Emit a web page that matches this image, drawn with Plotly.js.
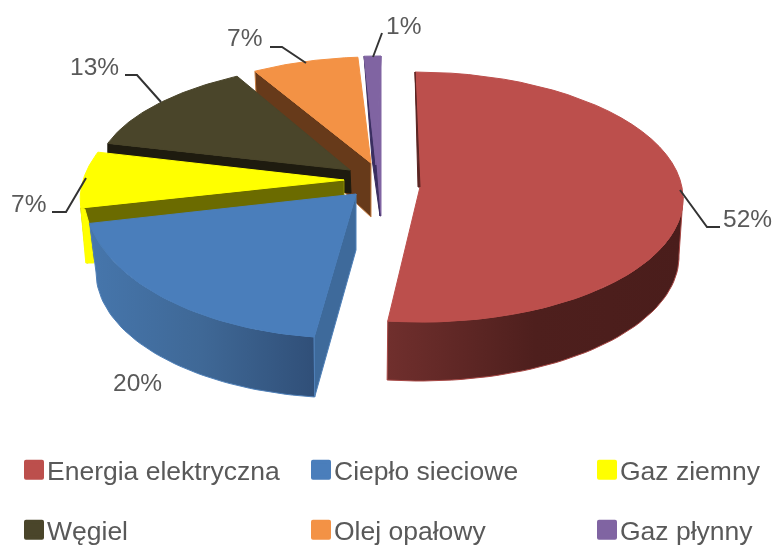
<!DOCTYPE html>
<html><head><meta charset="utf-8">
<script src="https://cdn.plot.ly/plotly-3.0.1.min.js"></script>
<style>html,body{margin:0;padding:0;background:#fff}#c{width:775px;height:547px;filter:blur(0.4px)}</style>
</head><body><div id="c"></div>
<script>
// data
const categories = ["Energia elektryczna","Ciepło sieciowe","Gaz ziemny","Węgiel","Olej opałowy","Gaz płynny"];
const shares = [52,20,7,13,7,1];
// colours
const faceColors = ["#BC4F4C","#4A7EBB","#FFFF00","#4A452A","#F39245","#8064A2"];
const sideColors = ["#4A1D1B","#3E6A9B","#6B6B00","#1E1B0F","#673A1A","#3A2E60"];
// projection of the exploded, tilted slices (pixels): [cx, cy, rx, ry, skew]
const ellipses = [[418,197,265,125,-3],[347,197,262,141,0],[344,184,262,128,31],[347,170,250,107,12],[353,172,240,115,20],[381,167,270,111,0]];
const apexes = [[420,187],[356,194],[344,180],[350,170],[371,163],[376,165]];
const sideDrop = [0,56,20,23,54,51];
// lower rims of the two front walls: [cx, cy, rx, ry, skew] and where each rim ends (degrees)
const lowerRimRed = [417,255,262,126,-3];
const lowerRimBlue = [346,272,250,126,0];
const rimEnd = {red:90, blue:270};
// labels: [x,y] label centres and leader polylines
const labelPos = [[747,218],[137,382],[28,203],[94,66],[244,37],[403,25]];
const leaders = [[[680,190],[707,227],[720,227]],null,[[86,178],[66,212],[52,212]],[[161,102],[137,75],[125,75]],[[306,63],[282,47],[270,47]],[[373,57],[382,33]]];
const legendPos = [[7,470],[294,470],[580,470],[7,530],[294,530],[580,530]];

const rad = d => d*Math.PI/180;
let cum = 0;
const angles = shares.map(v => { const a=[cum*3.6,(cum+v)*3.6]; cum+=v; return a; });
function pt(e,t){ return [e[0]+e[2]*Math.sin(rad(t))+e[4]*Math.cos(rad(t)), e[1]-e[3]*Math.cos(rad(t))]; }
function arc(e,a,b){ const o=[]; const n=48; for(let i=0;i<=n;i++) o.push(pt(e,a+(b-a)*i/n)); return o; }
function poly(pts,color,grad,edge){
  const t={type:'scatter',mode:'lines',x:pts.map(p=>p[0]),y:pts.map(p=>p[1]),fill:'toself',fillcolor:color,
    line:{color:edge||color,width:1},hoverinfo:'skip',showlegend:false};
  if(grad) t.fillgradient={type:'horizontal',colorscale:grad};
  return t;
}
function closed(p){ return p.concat([p[0]]); }
function face(i){ return closed([apexes[i]].concat(arc(ellipses[i],angles[i][0],angles[i][1]))); }
function drop(p,dx,dy){ return [p[0]+dx,p[1]+dy]; }

const traces=[];
// legend entries
categories.forEach((c,i)=>traces.push({type:'scatter',mode:'markers',x:[null],y:[null],name:c,
  marker:{symbol:'square',size:16,color:faceColors[i],line:{color:faceColors[i],width:4}},
  legend:i===0?'legend':'legend'+(i+1),showlegend:true,hoverinfo:'skip'}));

// Gaz płynny
{const i=5,s=pt(ellipses[i],angles[i][0]),e=pt(ellipses[i],angles[i][1]),a=apexes[i],b=drop(a,4,sideDrop[i]);
 traces.push(poly(closed([e,drop(e,0,160),b,a]),faceColors[i]));
 traces.push(poly(closed([s,a,b,drop(a,-4,-6)]),sideColors[i]));
 traces.push(poly(face(i),faceColors[i]));}
// Olej opałowy
{const i=4,s=pt(ellipses[i],angles[i][0]),a=apexes[i];
 traces.push(poly(closed([s,a,drop(a,0,sideDrop[i]),drop(s,2,40)]),sideColors[i],null,'#C77F45'));
 traces.push(poly(face(i),faceColors[i]));}
// Węgiel
{const i=3,s=pt(ellipses[i],angles[i][0]),a=apexes[i];
 traces.push(poly(closed([s,a,drop(a,1,sideDrop[i]),drop(s,0,sideDrop[i])]),sideColors[i]));
 traces.push(poly(face(i),faceColors[i]));}
// Gaz ziemny: the cut wall and rim hang from the lower (start) edge of the slice
{const i=2,s=pt(ellipses[i],angles[i][0]),a=apexes[i];
 traces.push(poly(closed([s,a,drop(a,0,sideDrop[i]),drop(s,6,55)]),sideColors[i],null,'#8A8A00'));
 traces.push(poly(closed([s,drop(s,5,55),drop(s,13,55),drop(s,8,15),drop(s,4,1)]),faceColors[i]));
 traces.push(poly(face(i),faceColors[i]));}
// Ciepło sieciowe
{const i=1,e=ellipses[i],a=apexes[i],[t0,t1]=angles[i],r=lowerRimBlue;
 const top=arc(e,t0,t1),low=arc(r,rimEnd.blue,t0);
 traces.push(poly(closed(top.concat(low)),sideColors[i],[[0,'#4676AC'],[0.5,'#3F6896'],[1,'#304F78']],'#4F80B8'));
 traces.push(poly(closed([a,drop(a,0,sideDrop[i]),pt(r,t0),pt(e,t0)]),sideColors[i],null,'#4F80B8'));
 traces.push(poly(face(i),faceColors[i]));}
// Energia elektryczna
{const i=0,e=ellipses[i],a=apexes[i],[t0,t1]=angles[i],r=lowerRimRed;
 const top=arc(e,rimEnd.red,t1),low=arc(r,t1,rimEnd.red);
 traces.push(poly(closed(top.concat(low)),sideColors[i],[[0,'#702F2D'],[0.5,'#4E1F1D'],[1,'#4A1D1B']],'#A84845'));
 traces.push(poly(closed(arc(e,0,t1).concat([a])),faceColors[i]));
 traces.push(poly(closed([pt(e,0),a,drop(a,-2,0)]),'#5A2422'));}
// leader lines
leaders.forEach(l=>{ if(l) traces.push({type:'scatter',mode:'lines',x:l.map(p=>p[0]),y:l.map(p=>p[1]),
  line:{color:'#333333',width:2},hoverinfo:'skip',showlegend:false}); });

const txt='#595959', font='"Liberation Sans", Arial, sans-serif';
const annotations=shares.map((v,i)=>({x:labelPos[i][0],y:labelPos[i][1],xref:'x',yref:'y',text:v+'%',showarrow:false,
  xanchor:'center',yanchor:'middle',font:{family:font,size:24.5,color:txt}}));

const layout={width:775,height:547,margin:{l:0,r:0,t:0,b:0,autoexpand:false},paper_bgcolor:'#fff',plot_bgcolor:'#fff',
  xaxis:{range:[0,775],visible:false,fixedrange:true},yaxis:{range:[547,0],visible:false,fixedrange:true},
  annotations,showlegend:true};
categories.forEach((c,i)=>{ layout[i===0?'legend':'legend'+(i+1)]={x:legendPos[i][0]/775,y:1-legendPos[i][1]/547,
  xanchor:'left',yanchor:'middle',bgcolor:'rgba(0,0,0,0)',borderwidth:0,font:{family:font,size:26.5,color:txt}}; });

Plotly.newPlot('c',traces,layout,{displayModeBar:false,staticPlot:true}).then(()=>{
  document.querySelectorAll('.legendsymbols').forEach(g=>g.setAttribute('transform','translate(7,0)'));
  document.querySelectorAll('.legendsymbols path').forEach(p=>p.style.strokeLinejoin='round');
});
</script></body></html>
